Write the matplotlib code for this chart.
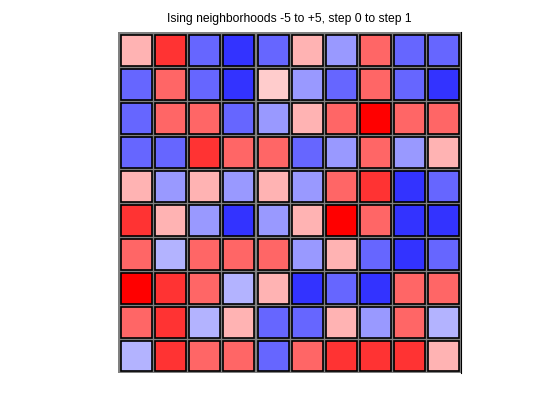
import numpy as np
import matplotlib
matplotlib.use("Agg")
import matplotlib.pyplot as plt
from matplotlib.colors import ListedColormap, BoundaryNorm
from matplotlib.patches import Rectangle

# neighbourhood values, top row first
grid = np.array([
    [ 2,  4, -4, -5, -4,  2, -3,  3, -4, -4],
    [-4,  3, -4, -5,  1, -3, -4,  3, -4, -5],
    [-4,  3,  3, -4, -3,  2,  3,  5,  3,  3],
    [-4, -4,  4,  3,  3, -4, -3,  3, -3,  2],
    [ 2, -3,  2, -3,  2, -3,  3,  4, -5, -4],
    [ 4,  2, -3, -5, -3,  2,  5,  3, -5, -5],
    [ 3, -2,  3,  3,  3, -3,  2, -4, -5, -4],
    [ 5,  4,  3, -2,  2, -5, -4, -5,  3,  3],
    [ 3,  4, -2,  2, -4, -4,  2, -3,  3, -2],
    [-2,  4,  3,  3, -4,  3,  4,  4,  4,  2],
])
levels = [-5, -4, -3, -2, -1, 0, 1, 2, 3, 4, 5]
level_colors = ["#3333FF", "#6666FF", "#9999FF", "#B3B3FF", "#CCCCFF", "#FFFFFF",
                "#FFCCCC", "#FFB3B3", "#FF6666", "#FF3333", "#FF0000"]
title = "Ising neighborhoods -5 to +5, step 0 to step 1"

cmap = ListedColormap(level_colors)
norm = BoundaryNorm(np.arange(-5.5, 6.5, 1), cmap.N)

fig = plt.figure(figsize=(5.6, 4.2), dpi=100)
ax = fig.add_axes([0.2107, 0.1119, 0.6125, 0.812])
ax.set_facecolor("#808080")

n = grid.shape[0]
pad = 0.045
for i in range(n):
    for j in range(grid.shape[1]):
        ax.add_patch(Rectangle((j + pad, n - 1 - i + pad), 1 - 2 * pad, 1 - 2 * pad,
                               facecolor=cmap(norm(grid[i, j])), edgecolor="black", lw=1.2))

ax.set_xlim(-0.04, 10.0)
ax.set_ylim(0.0, 10.04)
ax.set_xticks([])
ax.set_yticks([])
for s in ax.spines.values():
    s.set_visible(False)
ax.spines["right"].set_visible(True)
ax.spines["right"].set_linewidth(0.8)
ax.set_title(title, fontsize=8.7, family="Liberation Sans", pad=7)

fig.savefig("out.png", dpi=100)
